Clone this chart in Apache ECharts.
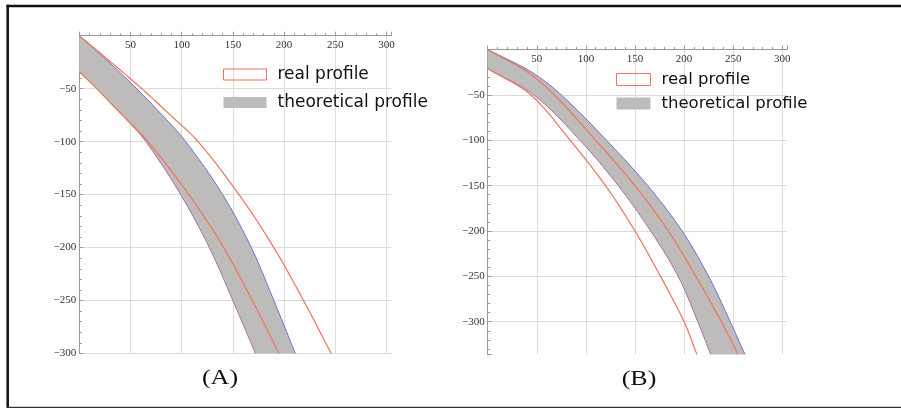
<!DOCTYPE html>
<html><head><meta charset="utf-8">
<script src="https://cdn.jsdelivr.net/npm/echarts@6/dist/echarts.min.js"></script>
<style>html,body{margin:0;padding:0;background:#fff}#c{width:901px;height:408px}</style>
</head><body><div id="c"></div>
<script>
// ---------- Panel (A) ----------
const aUpperY      = [0, -25, -50, -75, -100, -150, -200, -250, -300];
const aTheoUpperX  = [0, 29, 56, 81, 104, 140, 168, 190, 211];
const aRealOuterX  = [0, 31, 61, 89, 116, 156, 190, 219, 246];
const aLowerY      = [-34, -50, -75, -100, -150, -200, -250, -300];
const aTheoLowerX  = [0, 17, 42, 65, 99, 127, 150, 172];
const aRealInnerX  = [0, 17, 42, 67, 107, 141, 169, 195];

// ---------- Panel (B) ----------
const bUpperY      = [0, -25, -50, -100, -150, -200, -250, -300, -336];
const bTheoUpperX  = [0, 45, 75, 121, 163, 198, 225, 247, 262];
const bRealInnerX  = [0, 41, 68, 110, 150, 184, 212, 238, 255];
const bLowerY      = [-21, -50, -100, -150, -200, -250, -300, -336];
const bTheoLowerX  = [0, 47, 94, 133, 166, 194, 214, 227];
const bRealOuterX  = [0, 44, 84, 120, 150, 176, 200, 213];

const panelLabels  = ['(A)', '(B)'];
const legendNames  = ['real profile', 'theoretical profile'];

const RED = '#f2735e', BLUE = '#6f6fd2', PURPLE = '#a8709c', GRAY = '#bdbcba';
const GRID = '#dcdcdc', AXIS = '#9a9a9a';

function pairs(xs, ys) { return xs.map((x, i) => [x, ys[i]]); }

// smooth rendering of a curve through pixel points (non-uniform Hermite / Catmull-Rom)
function spline(P) {
  const n = P.length;
  if (n < 3) return P.slice();
  const t = [0];
  for (let i = 1; i < n; i++) t.push(t[i - 1] + (Math.hypot(P[i][0] - P[i - 1][0], P[i][1] - P[i - 1][1]) || 1e-6));
  const m = P.map((p, i) => {
    const a = i === 0 ? 0 : i - 1, b = i === n - 1 ? n - 1 : i + 1;
    const d = t[b] - t[a];
    return [(P[b][0] - P[a][0]) / d, (P[b][1] - P[a][1]) / d];
  });
  const out = [];
  for (let i = 0; i < n - 1; i++) {
    const h = t[i + 1] - t[i], steps = 12;
    for (let k = 0; k < steps; k++) {
      const s = k / steps, s2 = s * s, s3 = s2 * s;
      const h00 = 2 * s3 - 3 * s2 + 1, h10 = s3 - 2 * s2 + s, h01 = -2 * s3 + 3 * s2, h11 = s3 - s2;
      out.push([
        h00 * P[i][0] + h10 * h * m[i][0] + h01 * P[i + 1][0] + h11 * h * m[i + 1][0],
        h00 * P[i][1] + h10 * h * m[i][1] + h01 * P[i + 1][1] + h11 * h * m[i + 1][1]
      ]);
    }
  }
  out.push(P[n - 1].slice());
  return out;
}

// theoretical profile: grey band bounded by a blue and a purple edge
function bandSeries(gi, upX, upY, loX, loY) {
  const up = pairs(upX, upY), lo = pairs(loX, loY);
  return {
    type: 'custom', name: legendNames[1], xAxisIndex: gi, yAxisIndex: gi,
    data: up.concat(lo), encode: { x: 0, y: 1 }, z: 2, silent: true,
    itemStyle: { color: GRAY },
    renderItem: function (params, api) {
      if (params.dataIndex !== 0) return null;
      const su = spline(up.map(p => api.coord(p)));
      const sl = spline(lo.map(p => api.coord(p)));
      return { type: 'group', children: [
        { type: 'polygon', shape: { points: su.concat(sl.slice().reverse()) }, style: { fill: GRAY, stroke: null } },
        { type: 'polyline', shape: { points: su }, style: { stroke: BLUE, lineWidth: 1, fill: null } },
        { type: 'polyline', shape: { points: sl }, style: { stroke: PURPLE, lineWidth: 1, fill: null } }
      ] };
    }
  };
}
// real profile: red outline curves
function realSeries(gi, xs, ys) {
  const pts = pairs(xs, ys);
  return {
    type: 'custom', name: legendNames[0], xAxisIndex: gi, yAxisIndex: gi,
    data: pts, encode: { x: 0, y: 1 }, z: 3, silent: true,
    itemStyle: { color: RED },
    renderItem: function (params, api) {
      if (params.dataIndex !== 0) return null;
      return { type: 'polyline', shape: { points: spline(pts.map(p => api.coord(p))) },
               style: { stroke: RED, lineWidth: 1.2, fill: null } };
    }
  };
}

function xAx(gi) {
  return { type: 'value', gridIndex: gi, position: 'top', min: 0, max: 305, interval: 50,
    axisLine: { show: true, onZero: false, lineStyle: { color: AXIS, width: 1 } },
    axisTick: { show: true, inside: false, length: 4, lineStyle: { color: AXIS } },
    minorTick: { show: true, splitNumber: 5, length: 2.5, lineStyle: { color: AXIS } },
    axisLabel: { inside: true, margin: 4, fontFamily: 'Liberation Serif', fontSize: 11, color: '#333',
      formatter: v => (v > 0 && v % 50 === 0) ? String(v) : '' },
    splitLine: { show: true, lineStyle: { color: [GRID, GRID, GRID, GRID, GRID, GRID, GRID, 'rgba(0,0,0,0)'], width: 1 } }
  };
}
function yAx(gi, extra) {
  return Object.assign({ type: 'value', gridIndex: gi, max: 0,
    axisLine: { show: true, onZero: false, lineStyle: { color: AXIS, width: 1 } },
    axisTick: { show: true, inside: true, length: 4, lineStyle: { color: AXIS } },
    minorTick: { show: true, splitNumber: 5, length: 2.5, lineStyle: { color: AXIS } },
    axisLabel: { margin: 3, fontFamily: 'Liberation Serif', fontSize: 11, color: '#333',
      formatter: v => (v < 0 && v % 50 === 0) ? '\u2212' + (-v) : '' },
    splitLine: { show: true, lineStyle: { color: GRID, width: 1 } }
  }, extra);
}

function legendData() {
  return [
    { name: legendNames[0], icon: 'rect', itemStyle: { color: 'rgba(255,255,255,0)', borderColor: RED, borderWidth: 1 } },
    { name: legendNames[1], icon: 'rect', itemStyle: { color: GRAY, borderWidth: 0 } }
  ];
}

const chart = echarts.init(document.getElementById('c'), null, { renderer: 'canvas' });
chart.setOption({
  animation: false,
  backgroundColor: '#fff',
  grid: [
    { left: 79.3, top: 35.7, width: 312.3, height: 317.8 },
    { left: 487.7, top: 49.6, width: 299.5, height: 304.8 }
  ],
  xAxis: [xAx(0), xAx(1)],
  yAxis: [
    yAx(0, { min: -300, interval: 50 }),
    yAx(1, { min: -336, splitNumber: 7,
      splitLine: { show: true, lineStyle: { color: ['rgba(0,0,0,0)', GRID, GRID, GRID, GRID, GRID, GRID, GRID], width: 1 } } })
  ],
  legend: [
    { left: 223, top: 66, orient: 'vertical', padding: 0, itemWidth: 43, itemHeight: 11, itemGap: 11,
      selectedMode: false, textStyle: { fontFamily: 'DejaVu Sans', fontSize: 17, color: '#111', padding: [0, 0, 0, 6] },
      data: legendData() },
    { left: 616, top: 71, orient: 'vertical', padding: 0, itemWidth: 34, itemHeight: 12, itemGap: 7,
      selectedMode: false, textStyle: { fontFamily: 'DejaVu Sans', fontSize: 16.5, color: '#111', padding: [0, 0, 0, 6] },
      data: legendData() }
  ],
  series: [
    bandSeries(0, aTheoUpperX, aUpperY, aTheoLowerX, aLowerY),
    realSeries(0, aRealOuterX, aUpperY),
    realSeries(0, aRealInnerX, aLowerY),
    bandSeries(1, bTheoUpperX, bUpperY, bTheoLowerX, bLowerY),
    realSeries(1, bRealInnerX, bUpperY),
    realSeries(1, bRealOuterX, bLowerY)
  ],
  graphic: [
    { type: 'line', shape: { x1: 7.7, y1: 4.7, x2: 7.7, y2: 408 }, style: { stroke: '#111', lineWidth: 2.5 } },
    { type: 'line', shape: { x1: 6.5, y1: 6, x2: 901, y2: 6 }, style: { stroke: '#111', lineWidth: 2.5 } },
    { type: 'line', shape: { x1: 7, y1: 407.3, x2: 901, y2: 407.3 }, style: { stroke: '#333', lineWidth: 1.2 } },
    { type: 'text', x: 220, y: 379, scaleX: 1.3, style: { text: panelLabels[0], align: 'center', verticalAlign: 'middle',
      font: '20px "Liberation Serif"', fill: '#111' } },
    { type: 'text', x: 639, y: 380, scaleX: 1.3, style: { text: panelLabels[1], align: 'center', verticalAlign: 'middle',
      font: '20px "Liberation Serif"', fill: '#111' } }
  ]
});
</script></body></html>
